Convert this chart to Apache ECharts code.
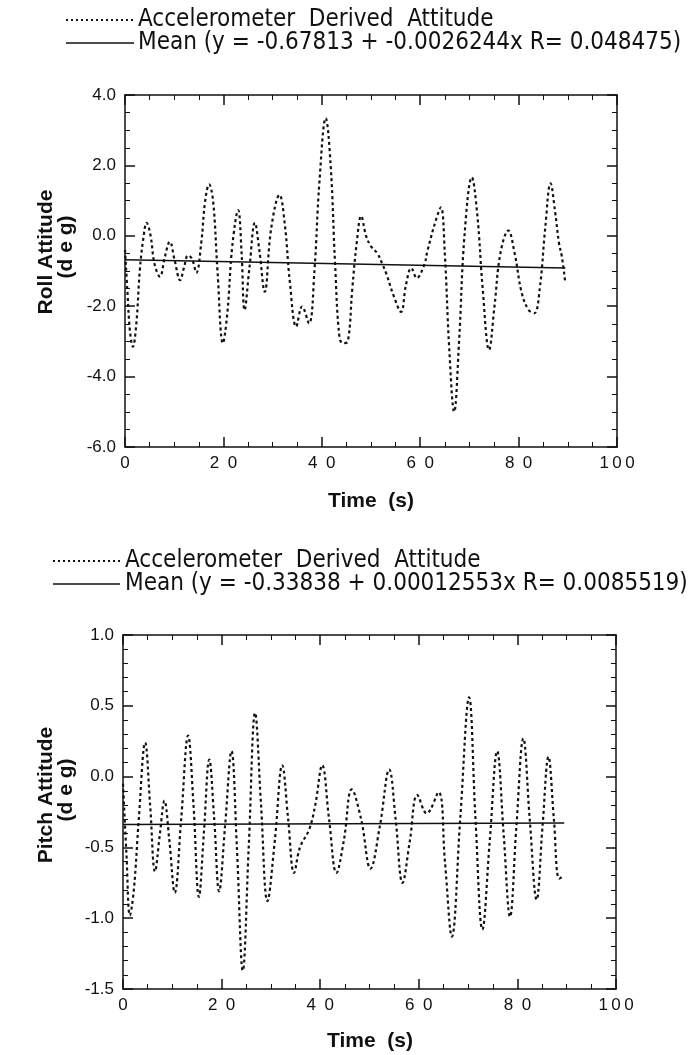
<!DOCTYPE html>
<html><head><meta charset="utf-8">
<script src="https://cdn.jsdelivr.net/npm/echarts@6/dist/echarts.min.js"></script>
<style>html,body{margin:0;padding:0;background:#fff}#c{width:700px;height:1055px}</style>
</head><body><div id="c"></div>
<script>
// ---- data ----
const rollTime = [0,0.5,1.0,1.6,2.3,3.0,3.7,4.4,5.2,6.0,7.1,8.1,9.1,10.1,11.2,12.0,12.8,13.6,14.5,15.5,16.3,17.1,17.9,18.8,19.9,20.8,21.8,23.0,23.7,24.3,25.3,26.4,27.3,28.4,29.7,31.4,32.5,33.5,34.8,36.0,37.4,38.5,39.5,40.8,41.8,42.7,43.6,44.4,45.3,46.2,47.1,48.0,49.0,50.0,51.3,52.3,53.1,54.6,56.1,57.1,58.2,59.3,60.8,61.5,63.2,64.2,65.0,65.9,66.9,67.9,69.0,70.5,71.6,72.7,74.0,75.1,76.3,77.9,79.2,80.6,82.0,83.2,84.3,85.4,86.5,87.4,88.2,88.8,89.5];
const rollValues = [-0.4,-1.6,-2.7,-3.15,-2.5,-1.0,-0.1,0.37,0.0,-0.8,-1.16,-0.6,-0.17,-0.7,-1.26,-0.9,-0.56,-0.65,-1.05,-0.2,1.0,1.46,1.0,-1.0,-3.05,-2.2,-0.3,0.73,-0.5,-2.11,-0.9,0.37,-0.4,-1.59,0.2,1.16,0.3,-1.3,-2.58,-2.01,-2.49,-1.0,1.5,3.34,2.0,-0.8,-2.9,-3.05,-3.0,-1.5,-0.2,0.56,0.0,-0.3,-0.5,-0.8,-1.07,-1.7,-2.16,-1.4,-0.92,-1.2,-0.83,-0.41,0.45,0.81,-0.5,-3.2,-5.0,-3.0,0.0,1.66,0.6,-1.5,-3.24,-2.0,-0.5,0.15,-0.5,-1.6,-2.1,-2.2,-1.5,0.2,1.49,0.7,-0.2,-0.6,-1.35];
const rollMeanTime = [0, 89.5];
const rollMeanValues = [-0.678, -0.913];

const pitchTime = [0,0.7,1.4,2.2,3.2,4.5,5.5,6.5,7.5,8.4,9.4,10.5,11.8,13.2,14.3,15.4,16.4,17.5,18.5,19.5,20.7,22.0,23.1,24.3,25.5,26.8,28.0,29.3,30.8,32.3,33.5,34.7,35.9,37.8,39.0,40.4,41.8,43.3,44.8,46.4,48.3,50.2,52.1,54.0,55.3,56.7,58.2,59.7,61.6,64.0,65.3,66.7,68.4,70.2,71.5,72.9,74.4,75.9,77.2,78.5,79.8,81.2,82.5,83.9,85.1,86.3,87.4,88.5,89.5];
const pitchValues = [-0.05,-0.55,-0.98,-0.8,-0.3,0.24,-0.2,-0.67,-0.4,-0.17,-0.45,-0.82,-0.3,0.29,-0.2,-0.85,-0.4,0.12,-0.3,-0.81,-0.35,0.18,-0.5,-1.37,-0.5,0.45,-0.2,-0.88,-0.45,0.08,-0.3,-0.68,-0.5,-0.37,-0.2,0.08,-0.3,-0.68,-0.45,-0.09,-0.3,-0.65,-0.35,0.05,-0.3,-0.75,-0.45,-0.13,-0.26,-0.11,-0.6,-1.13,-0.3,0.56,-0.3,-1.08,-0.45,0.18,-0.4,-0.99,-0.35,0.27,-0.3,-0.87,-0.35,0.14,-0.3,-0.72,-0.7];
const pitchMeanTime = [0, 89.5];
const pitchMeanValues = [-0.33838, -0.32715];

const xTickLabels = ['0','2\u20020','4\u20020','6\u20020','8\u20020','1\u20090\u20090'];
const dataSeriesName = 'Accelerometer  Derived  Attitude';
const rollMeanName = 'Mean (y = -0.67813 + -0.0026244x R= 0.048475)';
const pitchMeanName = 'Mean (y = -0.33838 + 0.00012553x R= 0.0085519)';
const rollAxisName = 'Roll Attitude';
const pitchAxisName = 'Pitch Attitude';
const unitName = '(d e g)';
const xAxisName = 'Time  (s)';

// ---- build ----
const pairs = (a, b) => a.map((t, i) => [t, b[i]]);
const tickFont = {fontFamily: 'Liberation Sans, Arial, sans-serif', fontSize: 17, color: '#111'};
const legendFont = '24px "Liberation Sans Narrow", "DejaVu Sans Condensed", "Liberation Sans", sans-serif';
const titleFont = 'bold 21px "Liberation Sans", Arial, sans-serif';

function xAx(gi, top) {
  return {
    type: 'value', gridIndex: gi, min: 0, max: 100, interval: 20, position: top ? 'top' : 'bottom',
    axisLine: {show: true, onZero: false, lineStyle: {color: '#111', width: 1.5}},
    axisTick: {show: true, inside: true, length: 10, lineStyle: {color: '#111', width: 1.5}},
    minorTick: {show: true, splitNumber: 4, length: 5, lineStyle: {color: '#111', width: 1}},
    splitLine: {show: false},
    axisLabel: top ? {show: false} : Object.assign({show: true, margin: 8, formatter: v => xTickLabels[Math.round(v / 20)]}, tickFont)
  };
}
function yAx(gi, right, min, max, interval, minorSplit) {
  return {
    type: 'value', gridIndex: gi, min: min, max: max, interval: interval, position: right ? 'right' : 'left',
    axisLine: {show: true, onZero: false, lineStyle: {color: '#111', width: 1.5}},
    axisTick: {show: true, inside: true, length: 10, lineStyle: {color: '#111', width: 1.5}},
    minorTick: {show: true, splitNumber: minorSplit, length: 5, lineStyle: {color: '#111', width: 1}},
    splitLine: {show: false},
    axisLabel: right ? {show: false} : Object.assign({show: true, margin: 9, padding: [0, 0, 9, 0], formatter: v => v.toFixed(1)}, tickFont)
  };
}
const dotted = {color: '#111', width: 2.2, type: [3, 3]};
const solid = {color: '#111', width: 1.5, type: 'solid'};

function legendGraphics(x0, x1, tx, y1, y2, names) {
  return [
    {type: 'line', shape: {x1: x0, y1: y1, x2: x1, y2: y1}, style: {stroke: '#111', lineWidth: 2, lineDash: [2, 3]}},
    {type: 'text', x: tx, y: y1, style: {text: names[0], font: legendFont, fill: '#111', align: 'left', verticalAlign: 'middle'}},
    {type: 'line', shape: {x1: x0, y1: y2, x2: x1, y2: y2}, style: {stroke: '#111', lineWidth: 1.5}},
    {type: 'text', x: tx, y: y2, style: {text: names[1], font: legendFont, fill: '#111', align: 'left', verticalAlign: 'middle'}}
  ];
}
function vText(x, y, t) {
  return {type: 'text', x: x, y: y, rotation: Math.PI / 2, style: {text: t, font: titleFont, fill: '#111', align: 'center', verticalAlign: 'middle'}};
}

const option = {
  animation: false,
  backgroundColor: '#fff',
  grid: [
    {left: 125, right: 83, top: 95, height: 352},
    {left: 123, right: 84, top: 635, height: 354}
  ],
  xAxis: [xAx(0, false), xAx(0, true), xAx(1, false), xAx(1, true)],
  yAxis: [yAx(0, false, -6, 4, 2, 4), yAx(0, true, -6, 4, 2, 4), yAx(1, false, -1.5, 1, 0.5, 5), yAx(1, true, -1.5, 1, 0.5, 5)],
  series: [
    {name: dataSeriesName, type: 'line', xAxisIndex: 0, yAxisIndex: 0, data: pairs(rollTime, rollValues), smooth: 0.4, symbol: 'none', lineStyle: dotted},
    {name: rollMeanName, type: 'line', xAxisIndex: 0, yAxisIndex: 0, data: pairs(rollMeanTime, rollMeanValues), symbol: 'none', lineStyle: solid},
    {name: dataSeriesName, type: 'line', xAxisIndex: 2, yAxisIndex: 2, data: pairs(pitchTime, pitchValues), smooth: 0.4, symbol: 'none', lineStyle: dotted},
    {name: pitchMeanName, type: 'line', xAxisIndex: 2, yAxisIndex: 2, data: pairs(pitchMeanTime, pitchMeanValues), symbol: 'none', lineStyle: solid}
  ],
  graphic: [].concat(
    legendGraphics(66, 134, 138, 20, 43, [dataSeriesName, rollMeanName]),
    legendGraphics(53, 120, 125, 561, 584, [dataSeriesName, pitchMeanName]),
    [
      vText(46, 252, rollAxisName), vText(66, 247, unitName),
      vText(46, 795, pitchAxisName), vText(66, 790, unitName),
      {type: 'text', x: 371, y: 501, style: {text: xAxisName, font: titleFont, fill: '#111', align: 'center', verticalAlign: 'middle'}},
      {type: 'text', x: 370, y: 1041, style: {text: xAxisName, font: titleFont, fill: '#111', align: 'center', verticalAlign: 'middle'}}
    ]
  )
};
const chart = echarts.init(document.getElementById('c'), null, {renderer: 'canvas'});
chart.setOption(option);
</script></body></html>
